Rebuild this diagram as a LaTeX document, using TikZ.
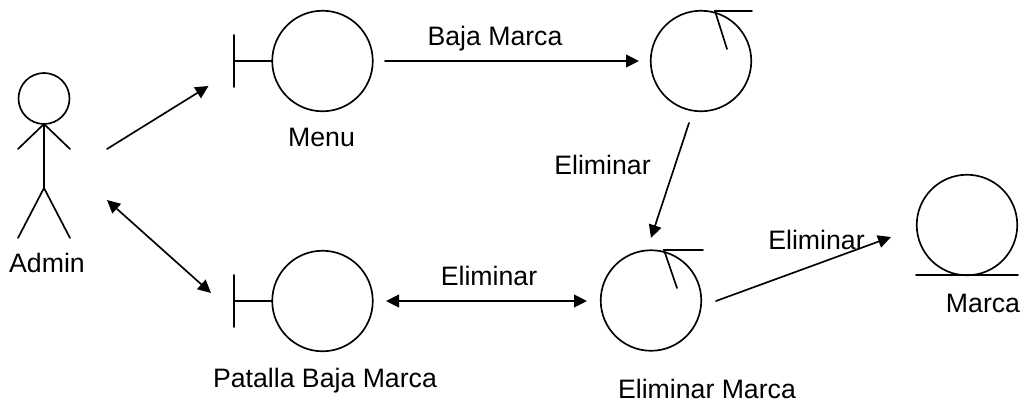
\documentclass[tikz,border=0pt]{standalone}
\usepackage{fontspec}
\setmainfont{Liberation Sans}
\usetikzlibrary{arrows.meta}
\tikzset{
 obj/.style={draw,circle,minimum size=#1,inner sep=0pt,line width=1.25pt},
 lbl/.style={inner sep=0pt,anchor=base,font=\fontsize{20}{23}\selectfont,text=black},
 ln/.style={line width=1.25pt,line cap=round},
 arr/.style={ln,-{Triangle[length=9.75pt,width=9.5pt]}},
 darr/.style={ln,{Triangle[length=9.75pt,width=9.5pt]}-{Triangle[length=9.75pt,width=9.5pt]}},
}
\begin{document}
\begin{tikzpicture}[x=0.75pt,y=-0.75pt]
\useasboundingbox[fill=white] (0,0) rectangle (1026,405);
% actor
\node[obj=38.25pt] (head) at (44,98.5) {};
\coordinate (neck) at (44,124);
\coordinate (hip) at (44,188);
\coordinate (armL) at (18,149);
\coordinate (armR) at (70,149);
\coordinate (legL) at (18,238);
\coordinate (legR) at (70,238);
\draw[ln] (neck)--(hip) (armL)--(neck)--(armR) (legL)--(hip)--(legR);
\node[lbl] (tadmin) at (47,272) {Admin};
% Menu
\node[obj=75.4pt] (menu) at (322.5,61) {};
\coordinate (mt) at (234,35); \coordinate (mb) at (234,87); \coordinate (mm) at (234,61);
\draw[ln] (mt)--(mb) (mm)--(menu.west);
\node[lbl] (tmenu) at (321.5,146) {Menu};
% Patalla
\node[obj=75.4pt] (pat) at (322.5,301) {};
\coordinate (pt) at (234,275); \coordinate (pb) at (234,327); \coordinate (pm) at (234,301);
\draw[ln] (pt)--(pb) (pm)--(pat.west);
\node[lbl] (tpat) at (325,387) {Patalla Baja Marca};
% control 1
\node[obj=75.4pt] (c1) at (701,61) {};
\coordinate (c1a) at (715,11); \coordinate (c1b) at (752,11); \coordinate (c1d) at (727,49);
\draw[ln] (c1b)--(c1a)--(c1d);
% control 2
\node[obj=75.4pt] (c2) at (651,300.5) {};
\coordinate (c2a) at (664,250); \coordinate (c2b) at (703,250); \coordinate (c2d) at (677,288);
\draw[ln] (c2b)--(c2a)--(c2d);
\node[lbl] (tc2) at (707,398) {Eliminar Marca};
% entity
\node[obj=75.4pt] (ent) at (967,225) {};
\coordinate (e1) at (916,275); \coordinate (e2) at (1018,275);
\draw[ln] (e1)--(e2);
\node[lbl] (tent) at (983,312) {Marca};
% connectors
\coordinate (a1s) at (107,149); \coordinate (a1e) at (208.5,86);
\draw[arr] (a1s)--(a1e);
\coordinate (a2s) at (107,200); \coordinate (a2e) at (211,293);
\draw[darr] (a2s)--(a2e);
\coordinate (a3s) at (385,61); \coordinate (a3e) at (639,61);
\draw[arr] (a3s)--(a3e);
\node[lbl] (t3) at (495,45) {Baja Marca};
\coordinate (a4s) at (689,123); \coordinate (a4e) at (651,238);
\draw[arr] (a4s)--(a4e);
\node[lbl] (t4) at (602.5,174) {Eliminar};
\coordinate (a5s) at (386,301); \coordinate (a5e) at (587,301);
\draw[darr] (a5s)--(a5e);
\node[lbl] (t5) at (489,285) {Eliminar};
\coordinate (a6s) at (716,301); \coordinate (a6e) at (891,237);
\draw[arr] (a6s)--(a6e);
\node[lbl] (t6) at (816.5,249) {Eliminar};
\end{tikzpicture}
\end{document}
